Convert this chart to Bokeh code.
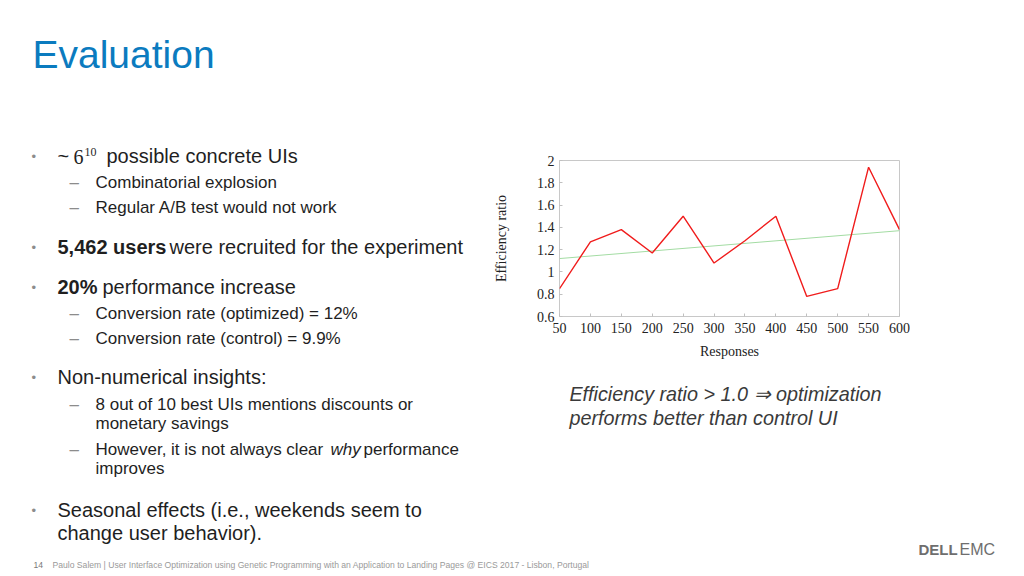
import numpy as np
from bokeh.plotting import figure
from bokeh.models import Range1d, FixedTicker
from bokeh.layouts import row, column
from bokeh.core.properties import value
from bokeh.embed import file_html
from bokeh.resources import INLINE

# ---------------- data ----------------
responses = [50, 100, 150, 200, 250, 300, 350, 400, 450, 500, 550, 600]
efficiency = [0.85, 1.27, 1.38, 1.17, 1.50, 1.08, 1.28, 1.50, 0.78, 0.85, 1.94, 1.38]
trend_x = [50, 600]
trend_y = [1.12, 1.37]
x_ticks = [50, 100, 150, 200, 250, 300, 350, 400, 450, 500, 550, 600]
y_ticks = [0.6, 0.8, 1.0, 1.2, 1.4, 1.6, 1.8, 2.0]
y_tick_labels = ["0.6", "0.8", "1", "1.2", "1.4", "1.6", "1.8", "2"]

title_text = "Evaluation"
x_label = "Responses"
y_label = "Efficiency ratio"
note_lines = ["Efficiency ratio > 1.0 \u21d2 optimization", "performs better than control UI"]
footer_num = "14"
footer_text = ("Paulo Salem | User Interface Optimization using Genetic Programming with an "
               "Application to Landing Pages  @  EICS 2017 - Lisbon, Portugal")

SANS = "Liberation Sans"
SERIF = "Liberation Serif"
TXT = "#1f1f1f"
GREY = "#8c8c8c"
K = 0.37  # baseline compensation (fraction of font size)


def canvas(x0, x1, y0, y1, bl=0, br=0, fx0=None, fx1=None):
    p = figure(width=x1 - x0, height=y1 - y0,
               x_range=Range1d(fx0 if fx0 is not None else x0, fx1 if fx1 is not None else x1),
               y_range=Range1d(y1, y0),
               x_axis_type=None, y_axis_type=None,
               toolbar_location=None, output_backend="svg",
               min_border=0, min_border_left=bl, min_border_right=br,
               outline_line_color=None,
               background_fill_color="white", border_fill_color="white")
    return p


def txt(p, x, base, s, size, color=TXT, font=SANS, style="normal", align="left"):
    p.text(x=[x], y=[base - K * size], text=[s], text_font=value(font),
           text_font_size=f"{size}px", text_font_style=style,
           text_color=color, text_baseline="alphabetic", text_align=align)


# ---------------- title strip ----------------
top = canvas(0, 1020, 0, 130)
txt(top, 32, 68, title_text, 39, color="#0b7bbf")

# ---------------- left bullets ----------------
left = canvas(0, 490, 130, 548)


def bullet(y):
    txt(left, 31, y - 2.5, "\u2022", 13, color=GREY)


def dash(y):
    txt(left, 69, y, "\u2013", 17, color=GREY)


bullet(163)
txt(left, 57, 163, "~", 20)
txt(left, 73, 164, "6", 20, font=SERIF)
txt(left, 84, 156, "10", 12, font=SERIF)
txt(left, 106, 163, "possible concrete UIs", 20)
dash(188); txt(left, 95, 188, "Combinatorial explosion", 17)
dash(213); txt(left, 95, 213, "Regular A/B test would not work", 17)

bullet(254)
txt(left, 57, 254, "5,462 users", 20, style="bold")
txt(left, 169, 254, "were recruited for the experiment", 20)

bullet(294)
txt(left, 57, 294, "20%", 20, style="bold")
txt(left, 102, 294, "performance increase", 20)
dash(319); txt(left, 95, 319, "Conversion rate (optimized) = 12%", 17)
dash(344); txt(left, 95, 344, "Conversion rate (control) = 9.9%", 17)

bullet(384)
txt(left, 57, 384, "Non-numerical insights:", 20)
dash(410); txt(left, 95, 410, "8 out of 10 best UIs mentions discounts or", 17)
txt(left, 95, 429, "monetary savings", 17)
dash(455); txt(left, 95, 455, "However, it is not always clear", 17)
txt(left, 330, 455, "why", 17, style="italic")
txt(left, 363, 455, "performance", 17)
txt(left, 95, 474, "improves", 17)

bullet(517)
txt(left, 57, 517, "Seasonal effects (i.e., weekends seem to", 20)
txt(left, 57, 540, "change user behavior).", 20)

# ---------------- chart ----------------
c = figure(width=420, height=238, x_range=Range1d(50, 600), y_range=Range1d(0.6, 2.0),
           toolbar_location=None, output_backend="svg",
           min_border_left=65, min_border_right=11, min_border_top=30, min_border_bottom=52,
           outline_line_color="#c8c8c8", background_fill_color="white", border_fill_color="white")
c.grid.visible = False
c.line(trend_x, trend_y, line_color="#a3dca3", line_width=1)
c.line(responses, efficiency, line_color="#f01c1c", line_width=1.4)

c.xaxis.ticker = FixedTicker(ticks=x_ticks)
c.yaxis.ticker = FixedTicker(ticks=y_ticks)
c.yaxis.major_label_overrides = {v: l for v, l in zip(y_ticks, y_tick_labels)}
c.xaxis.axis_label = x_label
c.yaxis.axis_label = y_label
for ax in (c.xaxis[0], c.yaxis[0]):
    ax.axis_line_color = None
    ax.major_tick_in = 3
    ax.major_tick_out = 0
    ax.major_tick_line_color = "#c0c0c0"
    ax.minor_tick_line_color = None
    ax.major_label_text_font = SERIF
    ax.major_label_text_font_size = "14px"
    ax.major_label_text_color = "#222222"
    ax.axis_label_text_font = SERIF
    ax.axis_label_text_font_size = "14px"
    ax.axis_label_text_font_style = "normal"
    ax.axis_label_text_color = "#222222"
c.yaxis.major_label_standoff = 5
c.yaxis.axis_label_standoff = 25
c.xaxis.major_label_standoff = 6
c.xaxis.axis_label_standoff = 8

# ---------------- note under chart (frame aligned with chart frame) ----------------
note = canvas(490, 910, 368, 548, bl=65, br=11, fx0=555, fx1=899)
txt(note, 565, 401, note_lines[0], 19.8, color="#3a3a3a", style="italic")
txt(note, 565, 425, note_lines[1], 19.8, color="#3a3a3a", style="italic")

# ---------------- footer ----------------
bottom = canvas(0, 910, 548, 572)
txt(bottom, 33, 568, footer_num, 8.6, color="#7a7a7a")
txt(bottom, 52, 568, footer_text, 8.6, color="#9a9a9a")

# ---------------- right strip with logo ----------------
right = canvas(910, 1020, 130, 572)
txt(right, 918, 555, "DELL", 15, color="#6e6e6e", style="bold")
txt(right, 959, 555, "EMC", 16, color="#6e6e6e")

layout = column(top, row(column(row(left, column(c, note)), bottom), right))

open("out.html", "w").write(file_html(layout, INLINE))
